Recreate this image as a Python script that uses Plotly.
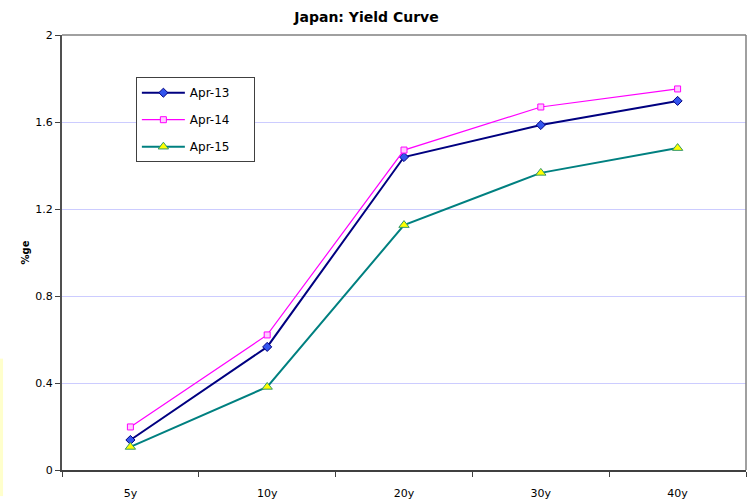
import plotly.graph_objects as go

tenors = ["5y", "10y", "20y", "30y", "40y"]
apr13 = [0.138, 0.566, 1.439, 1.586, 1.697]
apr14 = [0.198, 0.621, 1.471, 1.669, 1.752]
apr15 = [0.106, 0.382, 1.126, 1.366, 1.480]
series_names = ["Apr-13", "Apr-14", "Apr-15"]
y_ticks = [0, 0.4, 0.8, 1.2, 1.6, 2]
y_labels = ["0", "0.4", "0.8", "1.2", "1.6", "2"]

FONT = "DejaVu Sans"
PAD = "\u00a0" * 5

fig = go.Figure()
fig.add_trace(go.Scatter(
    x=tenors, y=apr13, name=series_names[0] + PAD, mode="lines+markers", legendgroup="a",
    line=dict(color="#000080", width=2),
    marker=dict(symbol="diamond", size=7, color="#3355ee", line=dict(color="#000080", width=1)),
))
fig.add_trace(go.Scatter(
    x=tenors, y=apr14, name=series_names[1] + PAD, mode="lines+markers", legendgroup="b",
    line=dict(color="#ff00ff", width=1.2),
    marker=dict(symbol="square", size=6, color="#ffccff", line=dict(color="#ff00ff", width=1)),
))
fig.add_trace(go.Scatter(
    x=tenors, y=apr15, name=series_names[2] + PAD, mode="lines+markers", legendgroup="c",
    line=dict(color="#008080", width=2),
    marker=dict(symbol="triangle-up", size=9, color="#ffff00", line=dict(color="#339966", width=1)),
))

fig.update_layout(
    width=748, height=502,
    margin=dict(l=62, r=2, t=35, b=32),
    paper_bgcolor="white", plot_bgcolor="white",
    font=dict(family=FONT, size=11, color="black"),
    title=dict(text="<b>Japan: Yield Curve</b>", x=0.49, xanchor="center", y=0.966, yanchor="middle",
               font=dict(family=FONT, size=14, color="black")),
    showlegend=True,
    legend=dict(x=0.108, y=0.903, xanchor="left", yanchor="top",
                bgcolor="white", bordercolor="#404040", borderwidth=1,
                font=dict(family=FONT, size=12), tracegroupgap=8,
                itemwidth=43),
    xaxis=dict(
        type="category", range=[-0.5, 4.5], tickson="boundaries",
        ticks="outside", ticklen=5, tickcolor="#404040",
        showline=True, linecolor="#404040", linewidth=1.5, mirror=False,
        showgrid=False, ticklabelstandoff=12,
        tickfont=dict(family=FONT, size=11),
    ),
    yaxis=dict(
        range=[0, 2], tickvals=y_ticks, ticktext=y_labels,
        ticks="outside", ticklen=5, tickcolor="#404040",
        showline=True, linecolor="#505050", linewidth=2,
        showgrid=True, gridcolor="#ccccff", gridwidth=1,
        zeroline=False,
        title=dict(text="<b>%ge</b>", font=dict(family=FONT, size=10), standoff=4),
        tickfont=dict(family=FONT, size=11),
    ),
    shapes=[
        dict(type="line", xref="paper", yref="paper", x0=0, x1=1, y0=1, y1=1,
             line=dict(color="#808080", width=1.5)),
        dict(type="line", xref="paper", yref="paper", x0=1, x1=1, y0=0, y1=1,
             line=dict(color="#808080", width=1.5)),
        dict(type="rect", xref="paper", yref="paper", x0=-0.0906, x1=-0.0862, y0=-0.06, y1=0.256,
             line=dict(width=0), fillcolor="#ffffcc", layer="below"),
    ],
)

fig.write_html("out.html")
